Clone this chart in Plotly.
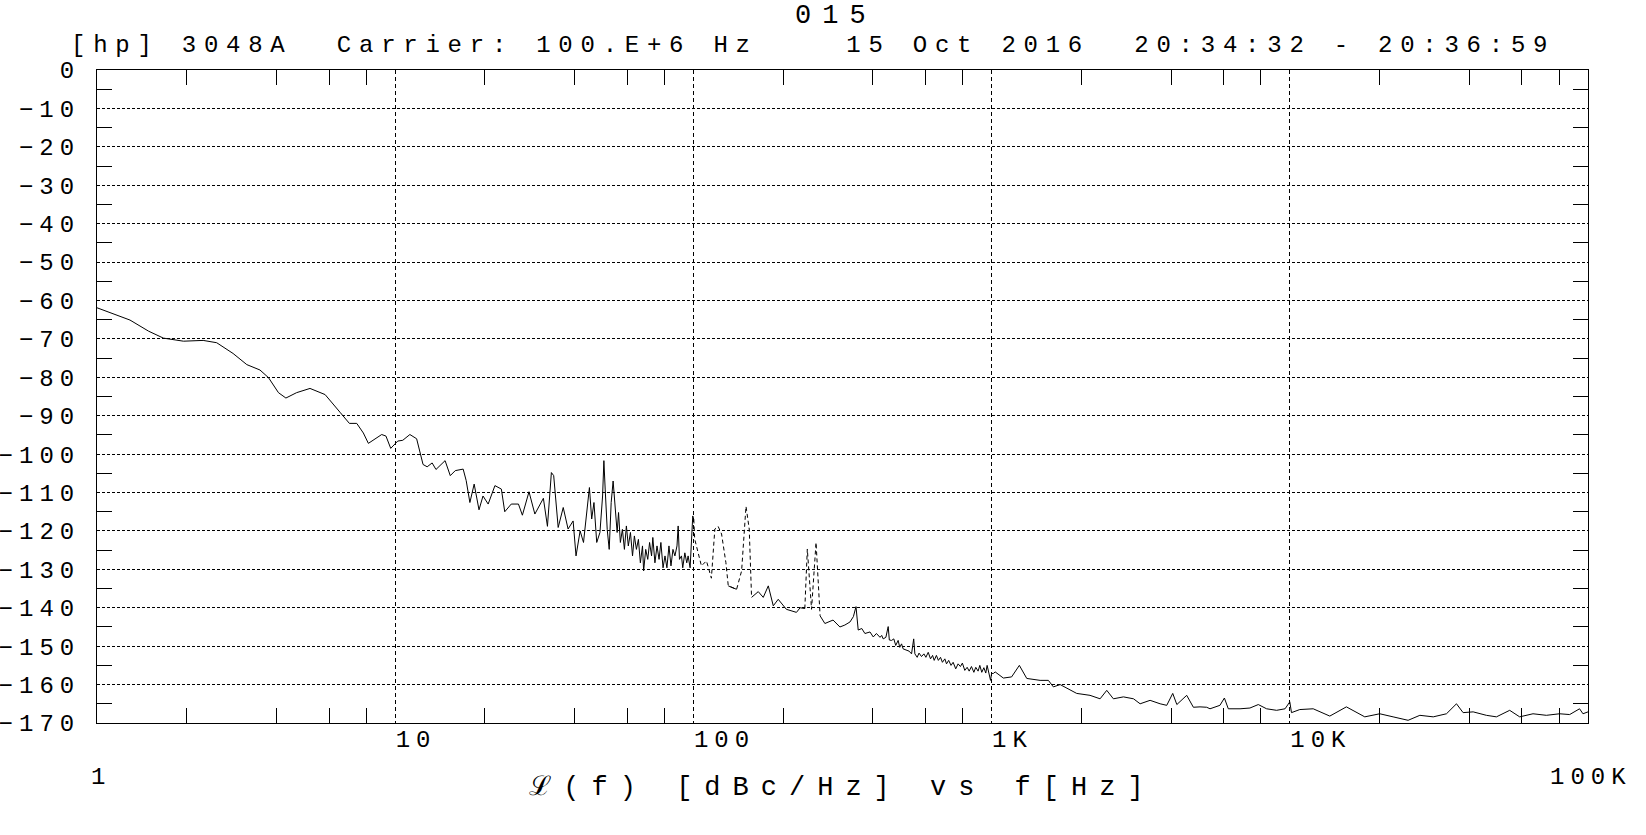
import numpy as np
import plotly.graph_objects as go

# ---------------- data ----------------
freq_hz = [
    1.00, 1.13, 1.29, 1.49, 1.67, 1.95, 2.27, 2.52, 2.86, 3.18, 3.52, 3.76, 4.06, 4.30,
    4.67, 5.18, 5.82, 6.53, 7.02, 7.43, 7.82, 8.13, 8.55, 9.01, 9.31, 9.66, 10.2, 10.6,
    11.2, 11.8, 12.4, 12.8, 13.3, 13.7, 14.7, 15.3, 15.9, 16.9, 17.3, 17.8, 18.4, 19.1,
    19.7, 20.5, 21.6, 22.7, 23.3, 24.5, 25.9, 26.7, 28.1, 29.4, 31.4, 32.4, 33.4, 34.0,
    35.2, 36.6, 38.0, 39.5, 40.4, 41.7, 42.8, 44.8, 45.6, 46.4, 47.4, 48.6, 49.6, 50.1,
    50.6, 51.4, 52.2, 53.0, 53.8, 54.7, 55.5, 56.1, 56.9, 57.8, 58.7, 59.6, 60.5, 61.5,
    62.5, 63.4, 64.4, 65.4, 66.4, 67.5, 68.1, 69.2, 70.3, 71.3, 72.4, 73.1, 74.3, 75.5,
    76.7, 77.8, 79.1, 80.3, 81.5, 82.8, 84.1, 85.4, 86.7, 88.1, 88.9, 89.8, 91.2, 92.1,
    93.6, 95.0, 96.0, 97.5, 98.4, 99.5, 100.3, 101.0, 106.4, 110.6, 114.9, 118.0, 121.0,
    124.3, 128.5, 130.9, 139.6, 145.1, 150.1, 153.9, 156.7, 165.0, 171.5, 178.3, 185.3,
    192.5, 205.0, 221.6, 228.0, 236.4, 241.0, 249.0, 257.8, 266.0, 276.0, 294.0, 310.0,
    322.0, 335.0, 344.0, 351.0, 357.0, 367.0, 376.0, 391.0, 401.0, 411.0,
    422.5, 428.0, 433.0, 442.0, 450.0, 454.0, 462.0, 470.0, 477.0, 486.0, 492.0, 499.0,
    505.0, 529.0, 539.0, 548.0, 553.0, 563.0, 571.0, 582.0, 593.0, 602.0, 613.0, 624.0,
    634.0, 642.0, 653.0, 663.0, 674.0, 684.0, 697.0, 706.0, 718.0, 731.0, 743.0, 758.0,
    772.0, 786.0, 798.0, 813.0, 828.0, 841.0, 856.0, 872.0, 885.0, 901.0, 913.0, 927.0,
    942.0, 956.0, 966.0, 981.0, 992.0,
    1000.0, 1014.0, 1028.0, 1095.0, 1167.0, 1239.0, 1312.0, 1454.0, 1550.0,
    1611.0, 1698.0, 1787.0, 1929.0, 2138.0, 2311.0, 2433.0, 2561.0, 2768.0, 2992.0,
    3148.0, 3400.0, 3674.0, 3867.0, 4050.0, 4180.0, 4511.0, 4750.0, 5000.0, 5264.0,
    5400.0, 5830.0, 6035.0, 6220.0, 6810.0, 7350.0, 7840.0, 8360.0, 9030.0, 9640.0,
    10000.0, 10130.0, 10800.0, 11980.0, 13620.0, 15480.0, 17840.0, 20030.0, 22200.0,
    24930.0, 27300.0, 30270.0, 33530.0, 36220.0, 38120.0, 41200.0, 45630.0, 49310.0,
    54630.0, 59000.0, 65400.0, 72500.0, 80300.0, 86800.0, 93700.0, 96200.0, 100000.0,
]
level_dbc = [
    -61.9, -63.5, -65.1, -68.0, -69.8, -70.6, -70.4, -71.0, -73.8, -76.7, -78.1, -80.1, -84.0, -85.4,
    -84.0, -82.9, -84.5, -89.1, -92.0, -92.0, -94.5, -97.2, -96.0, -94.9, -95.3, -98.5, -96.6, -96.4,
    -94.9, -96.0, -102.7, -103.3, -102.3, -104.0, -101.7, -105.6, -104.3, -103.9, -106.9, -112.6, -107.8, -114.5,
    -110.9, -113.0, -108.2, -109.1, -115.0, -113.0, -113.0, -115.9, -109.8, -115.6, -111.5, -118.8, -104.8, -105.6,
    -119.1, -113.9, -119.5, -117.4, -126.5, -120.0, -123.0, -108.7, -116.9, -112.6, -123.0, -120.4, -110.9, -101.7,
    -109.1, -119.6, -124.8, -112.6, -107.0, -114.3, -120.4, -115.2, -123.0, -119.6, -124.8, -118.7, -123.9, -120.4,
    -126.5, -121.3, -124.8, -122.2, -128.3, -123.9, -130.4, -124.8, -127.4, -123.0, -126.5, -121.7, -128.3, -123.9,
    -127.4, -123.0, -129.6, -126.5, -129.6, -123.9, -129.1, -124.8, -126.5, -123.9, -118.7, -127.4, -126.5, -129.6,
    -125.7, -128.3, -126.5, -129.6, -124.8, -116.1, -117.0, -122.1, -129.1, -127.8, -132.3, -119.5, -118.8,
    -120.8, -128.2, -134.3, -135.2, -130.4, -113.6, -119.5, -137.3, -135.8, -137.3, -134.3, -139.5,
    -137.8, -140.4, -141.2, -140.0, -140.2, -124.7, -140.4, -123.0, -142.1, -144.1, -143.2, -145.0,
    -144.5, -143.7, -142.3, -139.7, -145.8, -145.4, -146.7, -146.3, -147.6, -146.7,
    -147.7, -147.2, -148.1, -147.7, -144.9, -148.4, -148.5, -148.1, -149.8, -148.5, -150.3, -149.4,
    -150.7, -151.3, -152.0, -148.1, -152.0, -152.9, -151.8, -152.7, -152.0, -152.9, -151.6, -153.3,
    -152.4, -153.7, -152.4, -153.7, -152.9, -154.2, -153.3, -154.6, -153.7, -155.0, -154.2, -155.9,
    -154.6, -155.3, -154.4, -156.3, -155.5, -156.5, -155.3, -156.8, -155.5, -156.5, -155.0, -156.8,
    -155.6, -157.0, -155.0, -157.0, -158.9,
    -157.1, -157.1, -156.7, -158.3, -158.0, -155.0, -158.4, -158.9, -158.9,
    -160.6, -160.0, -161.0, -162.3, -162.8, -163.7, -161.5, -163.7, -163.2, -163.7,
    -165.0, -164.1, -165.0, -165.4, -162.3, -165.2, -162.8, -165.9, -165.8, -165.9,
    -166.3, -165.4, -163.5, -166.3, -166.3, -166.1, -165.2, -166.3, -166.7, -166.3,
    -164.5, -167.3, -166.5, -166.3, -168.2, -165.8, -168.4, -167.6, -168.4,
    -169.3, -168.0, -168.4, -167.6, -165.0, -167.3, -167.1, -168.0, -168.4,
    -166.7, -168.4, -167.6, -168.0, -167.6, -167.8, -166.3, -167.6, -167.1,
]
# frequency spans that the analyser drew with a dashed line (spurs)
spur_ranges_hz = [(100.3, 130.9), (139.6, 156.7), (236.4, 266.0)]

y_tick_vals = [0, -10, -20, -30, -40, -50, -60, -70, -80, -90, -100, -110, -120, -130, -140, -150, -160, -170]
y_tick_text = ["0", "−10", "−20", "−30", "−40", "−50", "−60", "−70", "−80", "−90",
               "−100", "−110", "−120", "−130", "−140", "−150", "−160", "−170"]
y_minor_vals = [-5, -15, -25, -35, -45, -55, -65, -75, -85, -95, -105, -115, -125, -135, -145, -155, -165]
x_tick_vals = [10, 100, 1000, 10000]
x_tick_text = ["10", "100", "1K", "10K"]
x_end_vals = [1, 100000]
x_end_text = ["1", "100K"]
x_minor_vals = [m * 10 ** d for d in range(5) for m in (2, 4, 6, 8)]

plot_number = "015"
header_text = "[hp] 3048A  Carrier: 100.E+6 Hz    15 Oct 2016  20:34:32 - 20:36:59"
x_title = "ℒ(f) [dBc/Hz] vs f[Hz]"


def spaced(text, px):
    return f'<span style="letter-spacing:{px}px">{text}</span>'


FONT = "Liberation Mono, DejaVu Sans Mono, monospace"

# ---------------- build traces ----------------
f = np.array(freq_hz, dtype=float)
inside_open = np.zeros(len(f), dtype=bool)
inside_closed = np.zeros(len(f), dtype=bool)
for lo, hi in spur_ranges_hz:
    inside_open |= (f > lo) & (f < hi)
    inside_closed |= (f >= lo) & (f <= hi)

solid_y = [None if m else v for v, m in zip(level_dbc, inside_open)]
dash_y = [v if m else None for v, m in zip(level_dbc, inside_closed)]

fig = go.Figure()
fig.add_trace(go.Scatter(x=freq_hz, y=solid_y, mode="lines", connectgaps=False,
                         line=dict(color="black", width=1), hoverinfo="skip"))
fig.add_trace(go.Scatter(x=freq_hz, y=dash_y, mode="lines", connectgaps=False,
                         line=dict(color="black", width=1, dash="4px,3px"), hoverinfo="skip"))

fig.update_layout(
    width=1646, height=835,
    margin=dict(l=97, r=58, t=70, b=112, autoexpand=False),
    paper_bgcolor="white", plot_bgcolor="white",
    showlegend=False,
    font=dict(family=FONT, color="black", size=24),
)

fig.update_xaxes(
    type="log", range=[0, 5], automargin=False,
    showline=True, linecolor="black", linewidth=1, mirror="ticks",
    showgrid=True, gridcolor="black", gridwidth=1, griddash="4px,3px",
    zeroline=False,
    tickmode="array", tickvals=x_tick_vals,
    ticktext=[spaced(t, 6) for t in x_tick_text],
    ticks="", ticklabelposition="outside right", ticklabelstandoff=-6,
    tickfont=dict(family=FONT, size=24, color="black"),
    minor=dict(tickmode="array", tickvals=x_minor_vals, ticks="inside",
               ticklen=15, tickwidth=1, tickcolor="black", showgrid=False),
    title=dict(text=spaced(x_title, 12), font=dict(family=FONT, size=27, color="black"),
               standoff=23),
)

fig.update_yaxes(
    range=[-170, 0], automargin=False,
    showline=True, linecolor="black", linewidth=1, mirror="ticks",
    showgrid=True, gridcolor="black", gridwidth=1, griddash="3px,2px",
    zeroline=False,
    tickmode="array", tickvals=y_tick_vals,
    ticktext=[spaced(t, 6) for t in y_tick_text],
    ticks="", ticklabelstandoff=11,
    tickfont=dict(family=FONT, size=24, color="black"),
    minor=dict(tickmode="array", tickvals=y_minor_vals, ticks="inside",
               ticklen=15, tickwidth=1, tickcolor="black", showgrid=False),
)

annotations = [
    dict(text=spaced(plot_number, 11), xref="paper", yref="paper", x=0.4956, y=1.0827,
         xanchor="center", yanchor="middle", showarrow=False,
         font=dict(family=FONT, size=27, color="black")),
    dict(text=spaced(header_text, 7.75), xref="paper", yref="paper", x=0.4800, y=1.0368,
         xanchor="center", yanchor="middle", showarrow=False,
         font=dict(family=FONT, size=24, color="black")),
    dict(text=spaced(x_end_text[0], 6), xref="x", yref="paper", x=np.log10(x_end_vals[0]), y=-0.0842,
         xanchor="left", yanchor="middle", showarrow=False, xshift=-8,
         font=dict(family=FONT, size=24, color="black")),
    dict(text=spaced(x_end_text[1], 6), xref="paper", yref="paper", x=1.031, y=-0.0842,
         xanchor="right", yanchor="middle", showarrow=False,
         font=dict(family=FONT, size=24, color="black")),
]
fig.update_layout(annotations=annotations)

fig.write_html("out.html", config={"displayModeBar": False},
               post_script="document.body.style.margin='0';document.body.style.overflow='hidden';")
